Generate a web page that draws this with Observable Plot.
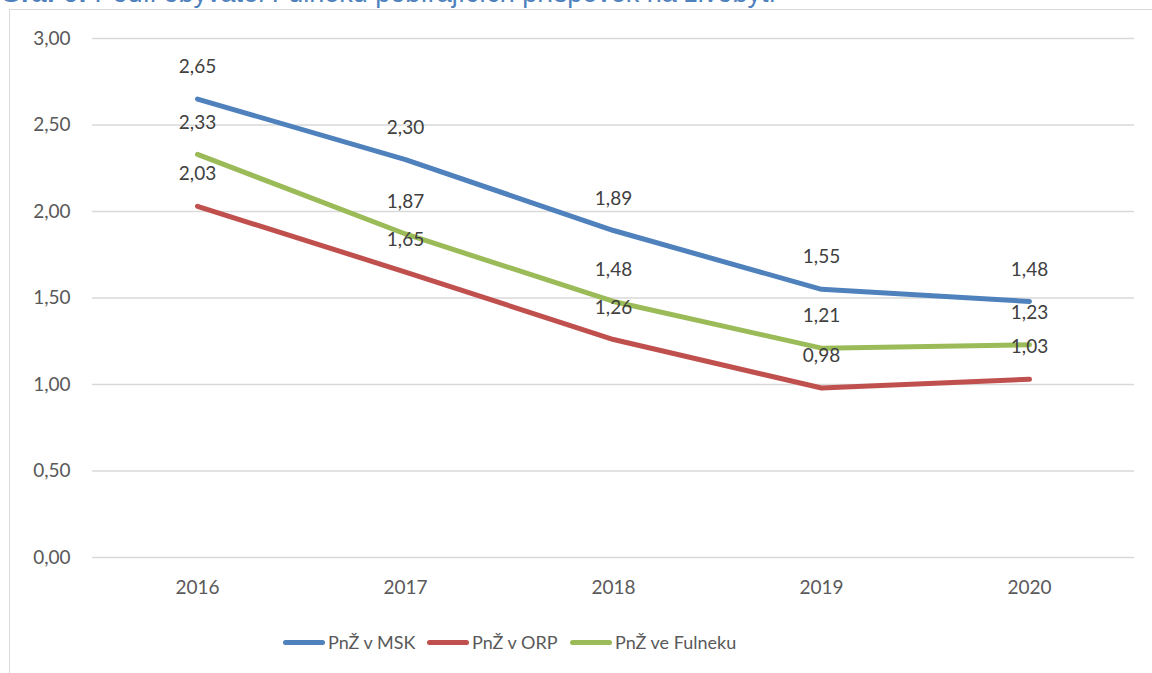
<!DOCTYPE html>
<html>
<head>
<meta charset="utf-8">
<script src="https://cdn.jsdelivr.net/npm/d3@7"></script>
<script src="https://cdn.jsdelivr.net/npm/@observablehq/plot@0.6"></script>
<style>
  html, body { margin: 0; padding: 0; background: #fff; overflow: hidden; }
  body { width: 1152px; height: 673px; position: relative; font-family: Lato, "Open Sans", sans-serif; }
  #title { position: absolute; left: 0; top: -20px; line-height: 1; font-family: Arial, "Liberation Sans", sans-serif; font-size: 27px; color: #4f81bd; white-space: nowrap; }
  #frame { position: absolute; left: 9px; top: 9px; width: 1200px; height: 700px; border: 1.5px solid #d9d9d9; box-sizing: border-box; background: #fff; }
  #chart { position: absolute; left: 0; top: 0; }
  #legend { position: absolute; left: 0; top: 630px; width: 1152px; height: 24px; }
  .item { position: absolute; top: 0; display: flex; align-items: center; height: 24px; font-size: 18px; color: #595959; }
  .sw { width: 42px; height: 5px; border-radius: 3px; margin-right: 3px; }
</style>
</head>
<body>
<div id="frame"></div>
<div id="title"><b>Graf 6:</b> Podíl obyvatel Fulneku pobírajících příspěvek na živobytí</div>
<div id="chart"></div>
<div id="legend"></div>
<script>
const years = ["2016", "2017", "2018", "2019", "2020"];
const seriesNames = ["PnŽ v MSK", "PnŽ v ORP", "PnŽ ve Fulneku"];
const msk = [2.65, 2.30, 1.89, 1.55, 1.48];
const orp = [2.03, 1.65, 1.26, 0.98, 1.03];
const fulnek = [2.33, 1.87, 1.48, 1.21, 1.23];
const colors = ["#4f81bd", "#c0504d", "#9bbb59"];
const yTicks = [0, 0.5, 1, 1.5, 2, 2.5, 3];

const values = [msk, orp, fulnek];
const data = [];
seriesNames.forEach((s, i) => years.forEach((y, j) => data.push({series: s, year: y, value: values[i][j]})));
const fmt = d => d.toFixed(2).replace(".", ",");

const plot = Plot.plot({
  width: 1152,
  height: 610,
  marginLeft: 92,
  marginRight: 18,
  marginTop: 38,
  marginBottom: 53,
  style: {fontFamily: "Lato, 'Open Sans', sans-serif", fontSize: "19px", color: "#595959", background: "transparent", overflow: "visible"},
  x: {type: "point", domain: years, padding: 0.5, label: null},
  y: {domain: [0, 3], label: null},
  color: {domain: seriesNames, range: colors},
  marks: [
    Plot.ruleY(yTicks, {stroke: "#d9d9d9", strokeWidth: 1.3}),
    Plot.axisY({ticks: yTicks, tickFormat: fmt, tickSize: 0, tickPadding: 22, fontSize: 19, fill: "#595959"}),
    Plot.axisX({tickSize: 0, tickPadding: 23, fontSize: 19, fill: "#595959"}),
    Plot.line(data, {x: "year", y: "value", z: "series", stroke: "series", strokeWidth: 5, strokeLinecap: "round", strokeLinejoin: "round"}),
    Plot.text(data, {x: "year", y: "value", text: d => fmt(d.value), dy: -32, fontSize: 19, fill: "#404040"})
  ]
});
document.getElementById("chart").appendChild(plot);

const legendPos = [283, 427, 570];
const legend = document.getElementById("legend");
seriesNames.forEach((s, i) => {
  const it = document.createElement("div");
  it.className = "item";
  it.style.left = legendPos[i] + "px";
  it.innerHTML = `<span class="sw" style="background:${colors[i]}"></span><span>${s}</span>`;
  legend.appendChild(it);
});
</script>
</body>
</html>
